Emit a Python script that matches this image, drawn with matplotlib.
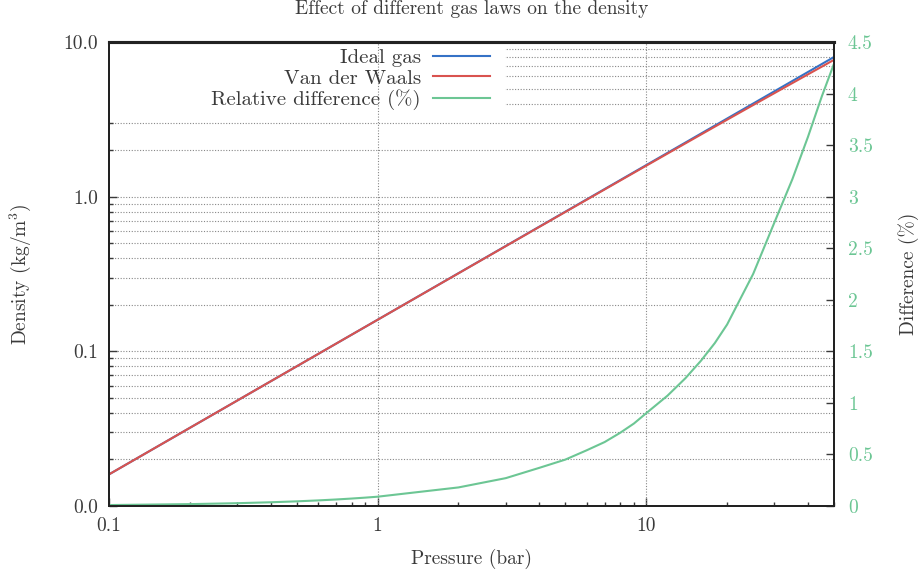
import matplotlib
matplotlib.use("Agg")
import matplotlib.pyplot as plt
from matplotlib.ticker import FixedLocator, FuncFormatter, LogLocator, NullFormatter
from matplotlib.patches import Rectangle

# Pressure points (bar)
pressure = [0.1, 0.2, 0.3, 0.4, 0.5, 0.6, 0.7, 0.8, 0.9, 1,
            2, 3, 4, 5, 6, 7, 8, 9, 10,
            12, 14, 16, 18, 20, 25, 30, 35, 40, 45, 50]

# Density (kg/m^3)
ideal_gas = [0.016, 0.032, 0.048, 0.064, 0.080, 0.096, 0.112, 0.128, 0.144, 0.160,
             0.320, 0.480, 0.640, 0.800, 0.960, 1.120, 1.280, 1.440, 1.600,
             1.920, 2.240, 2.560, 2.880, 3.200, 4.000, 4.800, 5.600, 6.400, 7.200, 8.000]
van_der_waals = [0.016, 0.032, 0.048, 0.064, 0.080, 0.096, 0.112, 0.128, 0.144, 0.1599,
                 0.3194, 0.4787, 0.6377, 0.7964, 0.9549, 1.1131, 1.2710, 1.4286, 1.5857,
                 1.8997, 2.2126, 2.5244, 2.8352, 3.1447, 3.9120, 4.6715, 5.4279, 6.1788,
                 6.9251, 7.6709]

# Relative difference (%)
rel_diff = [0.009, 0.018, 0.027, 0.036, 0.045, 0.054, 0.063, 0.072, 0.081, 0.09,
            0.18, 0.27, 0.37, 0.45, 0.54, 0.62, 0.71, 0.80, 0.90,
            1.07, 1.24, 1.41, 1.58, 1.76, 2.25, 2.75, 3.17, 3.58, 3.97, 4.29]

y_ticks = [0.01, 0.1, 1, 10]
x_ticks = [0.1, 1, 10]
diff_ticks = [0, 0.5, 1, 1.5, 2, 2.5, 3, 3.5, 4, 4.5]

blue = '#3572c6'
red = '#d9534f'
green = '#6cc694'
text_col = '#3a3a3a'

plt.rcParams['font.family'] = 'cmr10'
plt.rcParams['mathtext.fontset'] = 'cm'
plt.rcParams['axes.formatter.use_mathtext'] = True
plt.rcParams['text.color'] = text_col
plt.rcParams['axes.labelcolor'] = text_col
plt.rcParams['xtick.color'] = text_col
plt.rcParams['ytick.color'] = text_col

fig = plt.figure(figsize=(9.18, 5.78), dpi=100)
ax = fig.add_axes([0.1187, 0.1246, 0.7898, 0.8027])
ax2 = ax.twinx()

ax.set_xscale('log')
ax.set_yscale('log')
ax.set_xlim(0.1, 50)
ax.set_ylim(0.01, 10)
ax2.set_ylim(0, 4.5)

# horizontal grid on all y ticks, vertical grid on major x only
ax.grid(True, which='both', axis='y', linestyle=(0, (1, 1.5)), color='#888888', linewidth=0.8, zorder=0)
ax.set_axisbelow(True)

# white key area that hides the grid behind the legend
ax.add_patch(Rectangle((0, 0.855), 0.546, 0.145, transform=ax.transAxes,
                       facecolor='white', edgecolor='none', zorder=1))
for xv in x_ticks[1:]:
    ax.axvline(xv, linestyle=(0, (1, 1.5)), color='#888888', linewidth=0.8, zorder=1.5)

l1, = ax.plot(pressure, ideal_gas, color=blue, linewidth=1.5, label='Ideal gas', zorder=3)
l2, = ax.plot(pressure, van_der_waals, color=red, linewidth=1.5, label='Van der Waals', zorder=3)
l3, = ax2.plot(pressure, rel_diff, color=green, linewidth=1.5, label='Relative difference (%)')

ax.yaxis.set_major_locator(FixedLocator(y_ticks))
ax.yaxis.set_major_formatter(FuncFormatter(lambda v, p: f'{v:.1f}'))
ax.yaxis.set_minor_locator(LogLocator(base=10, subs=range(2, 10)))
ax.yaxis.set_minor_formatter(NullFormatter())
ax.xaxis.set_major_locator(FixedLocator(x_ticks))
ax.xaxis.set_major_formatter(FuncFormatter(lambda v, p: f'{v:g}'))
ax.xaxis.set_minor_locator(LogLocator(base=10, subs=range(2, 10)))
ax.xaxis.set_minor_formatter(NullFormatter())

ax.tick_params(which='major', direction='in', length=6, width=1, labelsize=14, pad=8,
               top=False, right=False)
ax.tick_params(which='minor', direction='in', length=3, width=1, top=False, right=False)

ax2.yaxis.set_major_locator(FixedLocator(diff_ticks))
ax2.yaxis.set_major_formatter(FuncFormatter(lambda v, p: f'{v:g}'))
ax2.tick_params(axis='y', direction='in', length=6, width=1, labelsize=14, pad=10,
                colors=text_col, labelcolor=green)

for a in (ax, ax2):
    for s in a.spines.values():
        s.set_linewidth(1.4)
        s.set_color('#222222')
    a.spines['top'].set_linewidth(2.2)

ax.set_xlabel('Pressure (bar)', fontsize=14, labelpad=10)
ax.set_ylabel('Density (kg/m$^3$)', fontsize=14, labelpad=22)
ax2.set_ylabel('Difference (%)', fontsize=14, labelpad=18)
ax.set_title('Effect of different gas laws on the density', fontsize=14, pad=20)

leg = ax.legend(handles=[l1, l2, l3], loc='upper right', bbox_to_anchor=(0.546, 1.017),
                markerfirst=False, frameon=False, fontsize=15, handlelength=2.75,
                handletextpad=0.58, labelspacing=0.08, borderaxespad=0.3)
leg.set_zorder(5)

fig.savefig('out.png', dpi=100)
